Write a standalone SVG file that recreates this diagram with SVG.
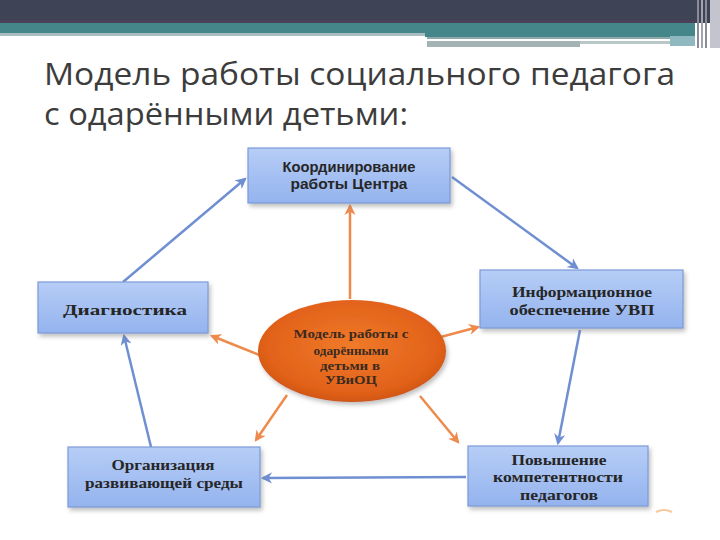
<svg xmlns="http://www.w3.org/2000/svg" width="720" height="540" viewBox="0 0 720 540">
<defs>
<linearGradient id="boxg" x1="0" y1="0" x2="0" y2="1">
<stop offset="0" stop-color="#b6cdf6"/>
<stop offset="1" stop-color="#94b3ee"/>
</linearGradient>
<radialGradient id="ellg" cx="0.5" cy="0.45" r="0.6">
<stop offset="0" stop-color="#f07a2a"/>
<stop offset="0.75" stop-color="#e2621a"/>
<stop offset="1" stop-color="#c9500f"/>
</radialGradient>
<filter id="sh" x="-10%" y="-10%" width="125%" height="130%">
<feDropShadow dx="2" dy="3" stdDeviation="2" flood-color="#777" flood-opacity="0.45"/>
</filter>
<marker id="ab" viewBox="0 0 10 10" refX="8" refY="5" markerWidth="4.5" markerHeight="4.5" orient="auto">
<path d="M0,0 L10,5 L0,10 L3,5 z" fill="#6f8fd2"/>
</marker>
<marker id="ao" viewBox="0 0 10 10" refX="8" refY="5" markerWidth="4.5" markerHeight="4.5" orient="auto">
<path d="M0,0 L10,5 L0,10 L3,5 z" fill="#ee8a4c"/>
</marker>
</defs>
<style>
.box{fill:url(#boxg);stroke:#7c9bd9;stroke-width:1.2;filter:url(#sh)}
.sans{font-family:"Liberation Sans",Arial,sans-serif;font-size:14px;font-weight:bold;fill:#262626;text-anchor:middle}
.serif{font-family:"Liberation Serif","Times New Roman",serif;font-size:15px;font-weight:bold;fill:#262626;text-anchor:middle}
.el{font-size:13px;fill:#3a2a20}
.title{font-family:"Open Sans","Noto Sans",sans-serif;font-size:31px;fill:#3c3c3c}
.bl{stroke:#6f8fd2;stroke-width:2.5;fill:none;marker-end:url(#ab)}
.or{stroke:#ee8a4c;stroke-width:2.5;fill:none;marker-end:url(#ao)}
</style>
<rect width="720" height="540" fill="#ffffff"/>
<g id="header">
<rect x="0" y="0" width="720" height="23" fill="#3e4455"/>
<rect x="0" y="20" width="695" height="3" fill="#4a4158"/>
<rect x="0" y="23" width="425" height="10" fill="#45868b"/>
<rect x="0" y="33" width="425" height="3" fill="#a9bcc0"/>
<rect x="425" y="23" width="270" height="14" fill="#45868b"/>
<rect x="427" y="37" width="243" height="2" fill="#8fa9ab"/>
<rect x="427" y="41" width="153" height="6" fill="#a4b4b4"/>
<rect x="580" y="41" width="90" height="3" fill="#b8c8c8"/>
<rect x="670" y="36" width="25" height="10" fill="#8fb8c0"/>
<rect x="697" y="0" width="2" height="48" fill="#8a8d99"/>
<rect x="701" y="0" width="2" height="48" fill="#a0a3ad"/>
<rect x="705" y="0" width="2" height="48" fill="#8a8d99"/>
<rect x="710" y="0" width="10" height="48" fill="#c4c4cf"/>
</g>
<g id="title">
<text class="title" x="44" y="85" textLength="631" lengthAdjust="spacingAndGlyphs">Модель работы социального педагога</text>
<text class="title" x="44" y="125" textLength="364" lengthAdjust="spacingAndGlyphs">с одарёнными детьми:</text>
</g>
<g id="connectors">
<line class="bl" x1="123" y1="282" x2="245" y2="179"/>
<line class="bl" x1="452" y1="177" x2="577" y2="268"/>
<line class="bl" x1="580" y1="330" x2="558" y2="443"/>
<line class="bl" x1="466" y1="477" x2="263" y2="478"/>
<line class="bl" x1="151" y1="447" x2="124" y2="336"/>
<line class="or" x1="350" y1="299" x2="350" y2="206"/>
<line class="or" x1="437" y1="338" x2="478" y2="327"/>
<line class="or" x1="262" y1="356" x2="212" y2="336"/>
<line class="or" x1="287" y1="395" x2="256" y2="440"/>
<line class="or" x1="420" y1="396" x2="458" y2="442"/>
</g>
<g id="n-center">
<ellipse cx="352" cy="351" rx="94" ry="51" fill="url(#ellg)" filter="url(#sh)"/>
<text class="serif el" x="351" y="338" textLength="115" lengthAdjust="spacingAndGlyphs">Модель работы с</text>
<text class="serif el" x="351" y="355" textLength="75" lengthAdjust="spacingAndGlyphs">одарёнными</text>
<text class="serif el" x="350" y="370" textLength="60" lengthAdjust="spacingAndGlyphs">детьми в</text>
<text class="serif el" x="351" y="384" textLength="52" lengthAdjust="spacingAndGlyphs">УВиОЦ</text>
</g>
<g id="n-top">
<rect class="box" x="248" y="148" width="202" height="55"/>
<text class="sans" x="349" y="172" textLength="133" lengthAdjust="spacingAndGlyphs">Координирование</text>
<text class="sans" x="349" y="189" textLength="117" lengthAdjust="spacingAndGlyphs">работы Центра</text>
</g>
<g id="n-right">
<rect class="box" x="480" y="270" width="203" height="58"/>
<text class="serif" x="582" y="297" textLength="140" lengthAdjust="spacingAndGlyphs">Информационное</text>
<text class="serif" x="582" y="315" textLength="145" lengthAdjust="spacingAndGlyphs">обеспечение УВП</text>
</g>
<g id="n-bottomright">
<rect class="box" x="468" y="446" width="180" height="60"/>
<text class="serif" x="559" y="465" textLength="95" lengthAdjust="spacingAndGlyphs">Повышение</text>
<text class="serif" x="558" y="482" textLength="130" lengthAdjust="spacingAndGlyphs">компетентности</text>
<text class="serif" x="559" y="500" textLength="78" lengthAdjust="spacingAndGlyphs">педагогов</text>
</g>
<g id="n-bottomleft">
<rect class="box" x="68" y="447" width="192" height="60"/>
<text class="serif" x="163" y="470" textLength="103" lengthAdjust="spacingAndGlyphs">Организация</text>
<text class="serif" x="164" y="488" textLength="158" lengthAdjust="spacingAndGlyphs">развивающей среды</text>
</g>
<g id="n-left">
<rect class="box" x="38" y="282" width="170" height="51"/>
<text class="serif" x="125" y="315" textLength="124" lengthAdjust="spacingAndGlyphs">Диагностика</text>
</g>
<path d="M656,512 Q664,508 672,512" stroke="#f3c9a0" stroke-width="2" fill="none"/>
</svg>
